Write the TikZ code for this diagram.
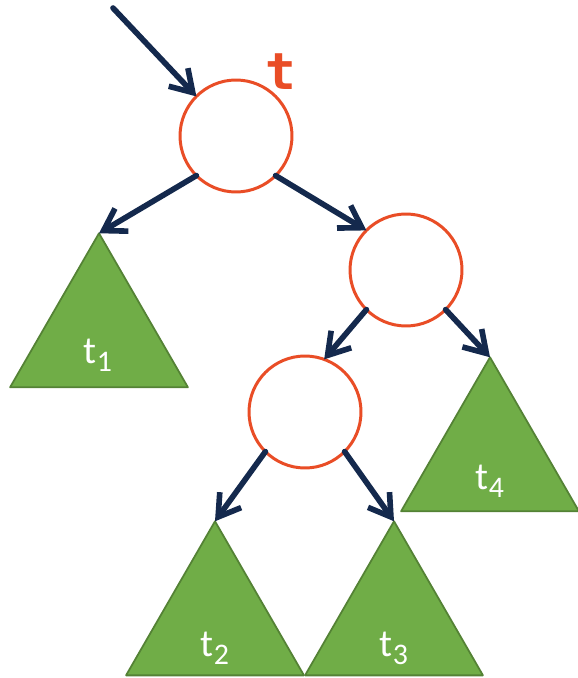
\documentclass[tikz,border=0pt]{standalone}
\usepackage{fontspec}
\setmainfont{Carlito}
\newfontfamily\namefont{DejaVu Sans Mono}
\usetikzlibrary{arrows.meta, shapes.geometric}
\definecolor{navy}{RGB}{20,41,77}
\definecolor{nodeorange}{RGB}{233,77,38}
\definecolor{subgreen}{RGB}{112,173,71}
\definecolor{subedge}{RGB}{84,130,53}
\newcommand{\sub}[1]{t\raisebox{-4.5pt}{\fontsize{17}{17}\selectfont #1}}

\begin{document}
\begin{tikzpicture}[x=0.02cm, y=-0.02cm, >={Straight Barb[length=12pt, width=15pt]}, line cap=round, line join=round,
    treenode/.style={circle, draw=nodeorange, line width=1.7pt, fill=white, minimum size=2.24cm, inner sep=0pt, outer sep=0pt},
    subtree/.style={regular polygon, regular polygon sides=3, draw=subedge, line width=1pt, fill=subgreen, minimum size=4.11cm, inner sep=0pt, outer sep=0pt},
    sublabel/.style={text=white, font=\fontsize{22}{26}\selectfont},
    edge/.style={->, draw=navy, line width=3.2pt}]

  \useasboundingbox (0,0) rectangle (577,678);

  %--------------------------
  % Subtrees
  %--------------------------
  \node[subtree] (t1) at (99,336) {};
  \node[subtree] (t4) at (490,460) {};
  \node[subtree] (t2) at (215,624) {};
  \node[subtree] (t3) at (394,624) {};

  \node[sublabel] (l1) at (98,355) {\sub{1}};
  \node[sublabel] (l4) at (490,481) {\sub{4}};
  \node[sublabel] (l2) at (215,648) {\sub{2}};
  \node[sublabel] (l3) at (394,648) {\sub{3}};

  %--------------------------
  % Inner nodes
  %--------------------------
  \node[treenode] (root) at (236,136) {};
  \node[treenode] (right) at (406,270) {};
  \node[treenode] (low) at (305,412) {};

  \node[text=nodeorange, font=\namefont\bfseries\fontsize{29}{31}\selectfont] (name) at (281,72) {t};

  %--------------------------
  % Pointers
  %--------------------------
  \coordinate (in) at (113,8);
  \draw[edge] (in) -- (root.135);
  \draw[edge] (root.225) -- (t1.corner 1);
  \draw[edge] (root.-45) -- (right.135);
  \draw[edge] (right.225) -- (low.70);
  \draw[edge] (right.-45) -- (t4.corner 1);
  \draw[edge] (low.225) -- (t2.corner 1);
  \draw[edge] (low.-45) -- (t3.corner 1);

\end{tikzpicture}
\end{document}
